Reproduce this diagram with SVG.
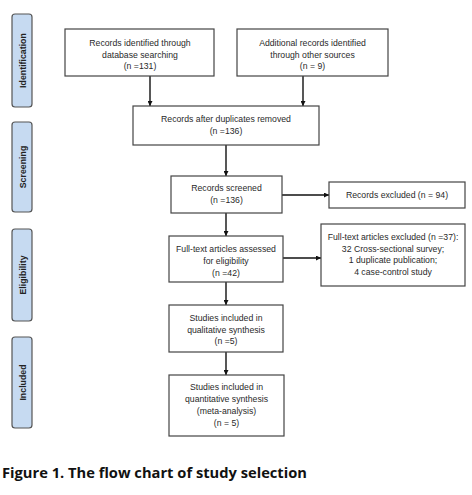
<svg xmlns="http://www.w3.org/2000/svg" width="472" height="495" viewBox="0 0 472 495">
<defs>
<style>
.box{fill:#fff;stroke:#444;stroke-width:1.2}
.side{fill:#c6daf1;stroke:#555;stroke-width:1.2}
.t{font-family:"Liberation Sans",Arial,sans-serif;font-size:8.7px;fill:#2a2a2a;text-anchor:middle}
.s{font-family:"Liberation Sans",Arial,sans-serif;font-size:8.8px;font-weight:bold;fill:#222;text-anchor:middle}
.c{stroke:#111;stroke-width:1.4;fill:none;marker-end:url(#ah)}
.cap{font-family:"Open Sans","Liberation Sans",sans-serif;font-size:14.7px;font-weight:bold;fill:#111}
</style>
<marker id="ah" viewBox="0 0 10 10" refX="10" refY="5" markerWidth="5" markerHeight="5" orient="auto" markerUnits="userSpaceOnUse">
<path d="M0,0 L10,5 L0,10 z" fill="#111"/>
</marker>
</defs>
<rect width="472" height="495" fill="#fff"/>

<g id="side-identification"><rect class="side" x="12" y="14" width="20" height="93" rx="3"/><text class="s" transform="translate(25.5,60.5) rotate(-90)">Identification</text></g>
<g id="side-screening"><rect class="side" x="12" y="122" width="20" height="90" rx="3"/><text class="s" transform="translate(25.5,167) rotate(-90)">Screening</text></g>
<g id="side-eligibility"><rect class="side" x="12" y="229" width="20" height="92" rx="3"/><text class="s" transform="translate(25.5,275) rotate(-90)">Eligibility</text></g>
<g id="side-included"><rect class="side" x="12" y="337" width="20" height="91" rx="3"/><text class="s" transform="translate(25.5,382.5) rotate(-90)">Included</text></g>

<g id="connectors">
<line class="c" x1="150" y1="76" x2="150" y2="106"/>
<line class="c" x1="303" y1="76" x2="303" y2="106"/>
<line class="c" x1="226" y1="145" x2="226" y2="176"/>
<line class="c" x1="282" y1="195" x2="329" y2="195"/>
<line class="c" x1="226" y1="213" x2="226" y2="236"/>
<line class="c" x1="283" y1="258" x2="321" y2="258"/>
<line class="c" x1="226" y1="282" x2="226" y2="305"/>
<line class="c" x1="226" y1="352" x2="226" y2="375"/>
</g>

<g id="n-database"><rect class="box" x="65" y="29" width="149" height="47"/>
<text class="t" x="140" y="46">Records identified through</text>
<text class="t" x="140" y="57.5">database searching</text>
<text class="t" x="140" y="69">(n =131)</text></g>

<g id="n-other"><rect class="box" x="237" y="29" width="151" height="47"/>
<text class="t" x="312.5" y="46">Additional records identified</text>
<text class="t" x="312.5" y="57.5">through other sources</text>
<text class="t" x="312.5" y="69">(n = 9)</text></g>

<g id="n-duplicates"><rect class="box" x="133" y="106" width="186" height="39"/>
<text class="t" x="226" y="122">Records after duplicates removed</text>
<text class="t" x="226" y="133.5">(n =136)</text></g>

<g id="n-screened"><rect class="box" x="171" y="176" width="111" height="37"/>
<text class="t" x="226.5" y="191">Records screened</text>
<text class="t" x="226.5" y="203">(n =136)</text></g>

<g id="n-excluded"><rect class="box" x="329" y="182" width="136" height="26"/>
<text class="t" x="397" y="197.5">Records excluded (n = 94)</text></g>

<g id="n-fulltext"><rect class="box" x="169" y="236" width="114" height="46"/>
<text class="t" x="226" y="252">Full-text articles assessed</text>
<text class="t" x="226" y="264">for eligibility</text>
<text class="t" x="226" y="276">(n =42)</text></g>

<g id="n-ft-excluded"><rect class="box" x="321" y="224" width="144" height="62"/>
<text class="t" x="393" y="240">Full-text articles excluded (n =37):</text>
<text class="t" x="393" y="251.5">32 Cross-sectional survey;</text>
<text class="t" x="393" y="263">1 duplicate publication;</text>
<text class="t" x="393" y="274.5">4 case-control study</text></g>

<g id="n-qualitative"><rect class="box" x="169" y="305" width="114" height="47"/>
<text class="t" x="226" y="321">Studies included in</text>
<text class="t" x="226" y="332.5">qualitative synthesis</text>
<text class="t" x="226" y="344">(n =5)</text></g>

<g id="n-quantitative"><rect class="box" x="169" y="375" width="115" height="61"/>
<text class="t" x="226.5" y="390">Studies included in</text>
<text class="t" x="226.5" y="402">quantitative synthesis</text>
<text class="t" x="226.5" y="414">(meta-analysis)</text>
<text class="t" x="226.5" y="425.5">(n = 5)</text></g>

<text class="cap" x="2" y="478">Figure 1. The flow chart of study selection</text>
</svg>
